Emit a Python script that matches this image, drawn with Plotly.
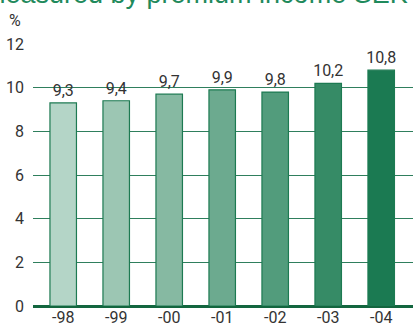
import plotly.graph_objects as go

# Market share by premium income, per year (%)
years = ["-98", "-99", "-00", "-01", "-02", "-03", "-04"]
share = [9.3, 9.4, 9.7, 9.9, 9.8, 10.2, 10.8]
bar_colors = ["#b4d5c7", "#9cc6b3", "#86b9a2", "#6caa8f", "#529c7c", "#368b66", "#1b7a52"]
y_ticks = [0, 2, 4, 6, 8, 10, 12]

labels = [f"{v:.1f}".replace(".", ",") for v in share]

font_family = "Roboto, Liberation Sans, sans-serif"

fig = go.Figure(
    go.Bar(
        x=years,
        y=share,
        marker=dict(color=bar_colors, line=dict(color="#1d7a52", width=1.2)),
        text=labels,
        textposition="outside",
        constraintext="none",
        textfont=dict(family=font_family, size=16, color="#333333"),
        cliponaxis=False,
        width=0.5,
    )
)

fig.update_layout(
    width=413,
    height=329,
    margin=dict(l=33, r=0, t=44, b=23),
    paper_bgcolor="white",
    plot_bgcolor="white",
    showlegend=False,
    font=dict(family=font_family, color="#333333"),
    xaxis=dict(
        range=[-0.57, 6.6],
        showgrid=False,
        showline=False,
        ticks="",
        tickfont=dict(size=16, color="#333333"),
        fixedrange=True,
    ),
    yaxis=dict(
        range=[0, 12],
        tickvals=y_ticks,
        showgrid=True,
        gridcolor="#2f7f5d",
        gridwidth=1,
        zeroline=True,
        zerolinecolor="#13663f",
        zerolinewidth=3,
        ticks="",
        ticklabelstandoff=8,
        tickfont=dict(size=16, color="#333333"),
        fixedrange=True,
    ),
    annotations=[
        dict(
            text="%",
            xref="paper", yref="paper",
            x=-0.047, y=1.09,
            xanchor="center", yanchor="middle",
            showarrow=False,
            font=dict(size=16, color="#333333", family=font_family),
        ),
        dict(
            text="measured by premium income SEK",
            xref="paper", yref="paper",
            x=-0.137, y=1.126,
            xanchor="left", yanchor="bottom",
            showarrow=False,
            font=dict(size=27, color="#1f8a5c", family="Liberation Sans, Arial, sans-serif"),
        ),
    ],
)

fig.write_html("out.html")
